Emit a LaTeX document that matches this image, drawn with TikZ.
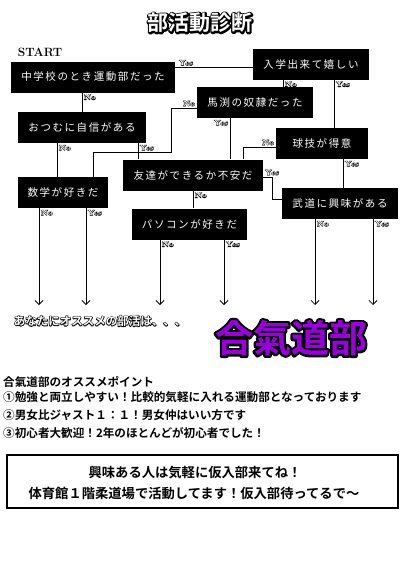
\documentclass[tikz,border=0pt]{standalone}
\usepackage{fontspec}
\usetikzlibrary{arrows.meta, positioning, calc}
\newfontfamily\jpfont{Noto Sans CJK JP}[BoldFont={* Bold}]
\newfontfamily\jpbox{Noto Sans CJK JP}[LetterSpace=15]
\definecolor{clubpurple}{HTML}{9A00DC}
% outlined text: stroke width (bp), fill colour, text
\newcommand{\outl}[3]{%
  \makebox[0pt][l]{\color{black}\special{pdf:literal direct 2 Tr #1 w 1 j}#3\special{pdf:literal direct 0 Tr}}%
  \textcolor{#2}{#3}}
\tikzset{
  qbox/.style  = {rectangle, fill=black, text=white, minimum height=31pt,
                  inner xsep=0pt, font=\jpbox\fontsize{10.5}{12}\selectfont},
  yn/.style    = {inner sep=1.5pt, font=\bfseries\fontsize{7.5}{8}\selectfont},
  link/.style  = {line width=0.8pt},
  arr/.style   = {line width=0.8pt, -{Straight Barb[length=4pt,width=8pt]}},
  point/.style = {anchor=west, inner sep=0pt,
                  font=\jpfont\bfseries\fontsize{11.6}{12}\selectfont},
}
\newcommand{\yes}{\outl{0.7}{white}{Yes}}
\newcommand{\no}{\outl{0.7}{white}{No}}

\begin{document}
\begin{tikzpicture}[x=1pt, y=-1pt]
  \useasboundingbox[fill=white] (0,0) rectangle (400,562);

  % ----- title -----
  \node[font=\jpfont\bfseries\fontsize{21}{22}\selectfont] (title)
       at (200,23) {\outl{3.2}{white}{部活動診断}};
  \node[font=\bfseries\fontsize{12}{12}\selectfont] (start) at (40,52.5) {START};

  % ----- questions -----
  \node[qbox, minimum width=164pt] (q1) at (93,77)     {中学校のとき運動部だった};
  \node[qbox, minimum width=116pt] (q2) at (311,64)    {入学出来て嬉しい};
  \node[qbox, minimum width=116pt] (q3) at (255,102.5) {馬渕の奴隷だった};
  \node[qbox, minimum width=128pt] (q4) at (82,127.5)  {おつむに自信がある};
  \node[qbox, minimum width=92pt]  (q5) at (322,143.5) {球技が得意};
  \node[qbox, minimum width=140pt] (q6) at (193,175)   {友達ができるか不安だ};
  \node[qbox, minimum width=90pt]  (q7) at (63,192.5)  {数学が好きだ};
  \node[qbox, minimum width=116pt] (q8) at (340,203.5) {武道に興味がある};
  \node[qbox, minimum width=115pt] (q9) at (189.5,224) {パソコンが好きだ};

  \coordinate (k1) at (171,152);
  \coordinate (k2) at (93,152);
  \coordinate (k4) at (272,199);
  \coordinate (bot) at (0,305);

  % ----- branches -----
  \draw[link] ([yshift=-6pt]q1.north east)
       -- node[yn, pos=0, anchor=south west, xshift=2pt] {\yes} ([yshift=-6pt]q1.north east -| q2.west);
  \draw[link] (q4.north |- q1.south)
       -- node[yn, pos=0, anchor=north west] {\no} (q4.north);
  \draw[link] ([xshift=-28pt]q2.south)
       -- node[yn, pos=0, anchor=north west] {\no} ([xshift=-28pt]q2.south |- q3.north);
  \draw[link] ([xshift=23pt]q2.south)
       -- node[yn, pos=0, anchor=north west] {\yes} ([xshift=23pt]q2.south |- q5.north);
  \draw[link] ([yshift=-5.5pt]q3.west)
       -| node[yn, pos=0, anchor=south east] {\no} (k1) -- (k2) -- (k2 |- q7.north);
  \draw[link] ([xshift=-25pt]q3.south)
       -- node[yn, pos=0, anchor=north east] {\yes} ([xshift=-25pt]q3.south |- q6.north);
  \draw[link] ([xshift=-25pt]q4.south)
       -- node[yn, pos=0, anchor=north west] {\no} ([xshift=-25pt]q4.south |- q7.north);
  \draw[link] ([xshift=56pt]q4.south)
       -- node[yn, pos=0, anchor=north west] {\yes} ([xshift=56pt]q4.south |- q6.north);
  \draw[link] ([yshift=-3.5pt]q5.west)
       -| node[yn, pos=0, anchor=south east] {\no} ([xshift=50pt]q6.north);
  \draw[link] ([xshift=21pt]q5.south)
       -- node[yn, pos=0, anchor=north west] {\yes} ([xshift=21pt]q5.south |- q8.north);
  \draw[link] ([yshift=-2pt]q6.east)
       -| node[yn, pos=0, anchor=south west] {\yes} (k4) -- (k4 -| q8.west);
  \draw[link] (q6.south)
       -- node[yn, pos=0, anchor=north west] {\no} (q6.south |- q9.north);

  % ----- to the result -----
  \draw[arr] ([xshift=-24pt]q7.south)
       -- node[yn, pos=0, anchor=north west] {\no} ([xshift=-24pt]q7.south |- bot);
  \draw[arr] ([xshift=23pt]q7.south)
       -- node[yn, pos=0, anchor=north west] {\yes} ([xshift=23pt]q7.south |- bot);
  \draw[arr] ([xshift=-29.5pt]q9.south)
       -- node[yn, pos=0, anchor=north west] {\no} ([xshift=-29.5pt]q9.south |- bot);
  \draw[arr] ([xshift=34.5pt]q9.south)
       -- node[yn, pos=0, anchor=north west] {\yes} ([xshift=34.5pt]q9.south |- bot);
  \draw[arr] ([xshift=-25pt]q8.south)
       -- node[yn, pos=0, anchor=north west] {\no} ([xshift=-25pt]q8.south |- bot);
  \draw[arr] ([xshift=33pt]q8.south)
       -- node[yn, pos=0, anchor=north west] {\yes} ([xshift=33pt]q8.south |- bot);

  % ----- result -----
  \node[font=\jpfont\bfseries\fontsize{11.5}{12}\selectfont] (reco)
       at (100,321) {\outl{1.4}{white}{あなたにオススメの部活は、、、}};
  \node[font=\jpfont\bfseries\fontsize{38}{40}\selectfont] (club)
       at (291,338) {\outl{4.5}{clubpurple}{合氣道部}};

  % ----- points -----
  \node[point] (p0) at (3,382) {合氣道部のオススメポイント};
  \node[point] (p1) at (3,397) {①勉強と両立しやすい！比較的気軽に入れる運動部となっております};
  \node[point] (p2) at (3,415) {②男女比ジャスト１：１！男女仲はいい方です};
  \node[point] (p3) at (3,433) {③初心者大歓迎！2年のほとんどが初心者でした！};

  % ----- invitation -----
  \node[draw, line width=1.2pt, minimum width=391pt, minimum height=53pt] (info)
       at (202.5,481.5) {};
  \node[font=\jpfont\bfseries\fontsize{13.3}{14}\selectfont] (inv1)
       at (195,473) {興味ある人は気軽に仮入部来てね！};
  \node[font=\jpfont\bfseries\fontsize{13.3}{14}\selectfont] (inv2)
       at (194,493) {体育館１階柔道場で活動してます！仮入部待ってるで〜};
\end{tikzpicture}
\end{document}
